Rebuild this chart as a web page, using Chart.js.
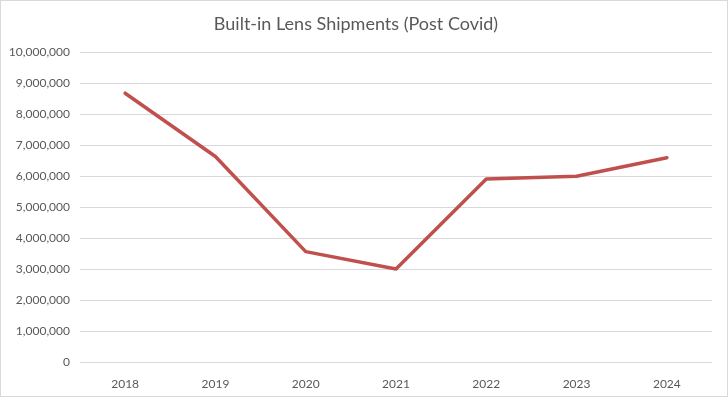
<!DOCTYPE html>
<html>
<head>
<meta charset="utf-8">
<script src="https://cdn.jsdelivr.net/npm/chart.js@4/dist/chart.umd.min.js"></script>
<style>
  html, body { margin: 0; padding: 0; background: #fff; }
  #wrap { width: 728px; height: 397px; }
</style>
</head>
<body>
<div id="wrap"><canvas id="shipments" width="728" height="397"></canvas></div>
<script>
const years = ['2018', '2019', '2020', '2021', '2022', '2023', '2024'];
const shipments = [8690000, 6650000, 3580000, 3020000, 5920000, 6010000, 6610000];
const yMin = 0;
const yMax = 10000000;
const yStep = 1000000;

const frame = {
  id: 'frame',
  beforeDraw(chart) {
    const c = chart.ctx;
    c.save();
    c.fillStyle = '#ffffff';
    c.fillRect(0, 0, chart.width, chart.height);
    c.strokeStyle = '#d9d9d9';
    c.lineWidth = 1;
    c.strokeRect(0.5, 0.5, chart.width - 1, chart.height - 1);
    c.restore();
  }
};

var ctx = document.getElementById('shipments');
var myChart = new Chart(ctx, {
  type: 'line',
  data: {
    labels: years,
    datasets: [{
      label: 'Shipments',
      data: shipments,
      borderColor: '#c0504d',
      borderWidth: 3.5,
      borderCapStyle: 'round',
      borderJoinStyle: 'round',
      pointRadius: 0,
      tension: 0,
      fill: false
    }]
  },
  options: {
    responsive: false,
    animation: false,
    layout: { padding: { left: 0, right: 16, top: 13, bottom: 0 } },
    plugins: {
      legend: { display: false },
      tooltip: { enabled: false },
      title: {
        display: true,
        text: 'Built-in Lens Shipments (Post Covid)',
        color: '#595959',
        font: { family: 'Lato', size: 18, weight: 'normal' },
        padding: { top: 0, bottom: 18 }
      }
    },
    scales: {
      x: {
        offset: true,
        grid: { display: false },
        border: { display: false },
        ticks: { color: '#595959', font: { family: 'Lato', size: 12 }, padding: 6, maxRotation: 0 }
      },
      y: {
        min: yMin,
        max: yMax,
        afterFit: (s) => { s.width = 80; },
        grid: { color: '#d9d9d9', lineWidth: 1, drawTicks: false },
        border: { display: false },
        ticks: {
          stepSize: yStep,
          color: '#595959',
          font: { family: 'Lato', size: 12 },
          padding: 10,
          callback: (v) => v.toLocaleString('en-US')
        }
      }
    }
  },
  plugins: [frame]
});
</script>
</body>
</html>
